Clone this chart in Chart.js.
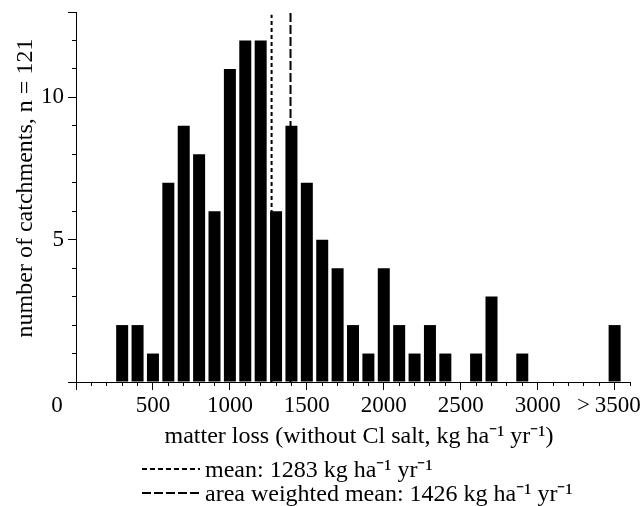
<!DOCTYPE html>
<html>
<head>
<meta charset="utf-8">
<script src="https://cdn.jsdelivr.net/npm/chart.js@4/dist/chart.umd.min.js"></script>
<style>
  html, body { margin: 0; padding: 0; background: #fff; }
  #wrap { position: relative; width: 642px; height: 506px; }
  #legend { position: absolute; left: 142px; top: 457px; font: 24px "Liberation Serif", serif; line-height: 24px; color: #000; }
  #legend .row { white-space: nowrap; height: 24px; }
  #legend svg { vertical-align: middle; margin-right: 5px; position: relative; top: -2px; }
</style>
</head>
<body>
<div id="wrap">
  <canvas id="c" width="642" height="506"></canvas>
  <div id="legend"></div>
</div>
<script>
// ---- data ----
const binCenters = [300,400,500,600,700,800,900,1000,1100,1200,1300,1400,1500,1600,1700,1800,1900,2000,2100,2200,2300,2400,2500,2600,2700,2800,2900,3000,3100,3200,3300,3400,3500];
const counts     = [2,2,1,7,9,8,6,11,12,12,6,9,7,5,4,2,1,4,2,1,2,1,0,1,3,0,1,0,0,0,0,0,2];
const meanLineX = 1271;          // dotted line position as drawn
const weightedMeanLineX = 1394;  // dashed line position as drawn
const xMajorTicks = [0,500,1000,1500,2000,2500,3000,3500];
const xTickLabels = ['0','500','1000','1500','2000','2500','3000','>\u20093500\u2002'];
const yMajorTicks = [0,5,10,13];
const yTickLabels = ['','5','10',''];
const xTitle = '\u00A0\u00A0matter loss (without Cl salt, kg ha\u207B\u00B9 yr\u207B\u00B9)';
const yTitle = '\u00A0\u00A0\u00A0number of catchments, n = 121';
const legendLabels = ['mean: 1283 kg ha\u207B\u00B9 yr\u207B\u00B9', 'area weighted mean: 1426 kg ha\u207B\u00B9 yr\u207B\u00B9'];

const TICK_FONT = { family: '"Liberation Serif", serif', size: 23 };
const TITLE_FONT = { family: '"Liberation Serif", serif', size: 24 };

const zeroLabelPlugin = {
  id: 'zeroLabel',
  afterDraw(chart) {
    const sx = chart.scales.x;
    const o = sx.options;
    const ctx = chart.ctx;
    ctx.save();
    ctx.font = TICK_FONT.size + 'px ' + TICK_FONT.family;
    ctx.fillStyle = '#000';
    ctx.textAlign = 'center';
    ctx.textBaseline = 'middle';
    const y = sx.top + o.grid.tickLength + o.ticks.padding + TICK_FONT.size * 1.2 / 2;
    ctx.fillText(xTickLabels[0], sx.getPixelForValue(0) - 19, y);
    ctx.restore();
  }
};

new Chart(document.getElementById('c'), {
  type: 'bar',
  data: {
    datasets: [
      {
        type: 'bar',
        data: binCenters.map((x, i) => ({ x, y: counts[i] })),
        backgroundColor: '#000',
        borderWidth: 0,
        categoryPercentage: 1,
        barPercentage: 0.78,
        xAxisID: 'x', yAxisID: 'y',
        order: 0
      },
      {
        type: 'line',
        data: [{ x: meanLineX, y: 0 }, { x: meanLineX, y: 12.9 }],
        borderColor: '#000', borderWidth: 2, borderDash: [4, 3],
        pointRadius: 0, fill: false,
        xAxisID: 'x', yAxisID: 'y',
        order: 1
      },
      {
        type: 'line',
        data: [{ x: weightedMeanLineX, y: 0 }, { x: weightedMeanLineX, y: 13 }],
        borderColor: '#000', borderWidth: 2, borderDash: [9, 3],
        pointRadius: 0, fill: false,
        xAxisID: 'x', yAxisID: 'y',
        order: 1
      }
    ]
  },
  options: {
    responsive: false,
    animation: false,
    devicePixelRatio: 1,
    layout: { padding: { top: 12, right: 12, bottom: 55, left: 0 } },
    plugins: { legend: { display: false }, tooltip: { enabled: false } },
    scales: {
      x: {
        type: 'linear', position: 'bottom', weight: 1,
        min: 0, max: 3600, offset: false,
        afterBuildTicks: s => { s.ticks = xMajorTicks.map(v => ({ value: v })); },
        afterFit: s => { s.height = 69; s.paddingLeft = 0; s.paddingRight = 0; },
        ticks: {
          autoSkip: false, maxRotation: 0, padding: 2, color: '#000', font: TICK_FONT,
          callback: (v) => { const i = xMajorTicks.indexOf(v); return i > 0 ? xTickLabels[i] : ''; }
        },
        grid: { drawOnChartArea: false, drawTicks: true, tickLength: 8, color: '#000', offset: false },
        border: { display: true, color: '#000', width: 1 },
        title: { display: true, text: xTitle, color: '#000', font: TITLE_FONT, padding: { top: 0, bottom: 0 } }
      },
      xMinor: {
        type: 'linear', position: 'bottom', weight: 0, display: true,
        min: 0, max: 3600, offset: false,
        afterFit: s => { s.height = 0; s.paddingLeft = 0; s.paddingRight = 0; },
        ticks: { display: false, stepSize: 100, autoSkip: false },
        grid: { drawOnChartArea: false, drawTicks: true, tickLength: 4, color: '#000', offset: false },
        border: { display: true, color: '#000', width: 1 }
      },
      y: {
        type: 'linear', position: 'left', weight: 1,
        min: 0, max: 13,
        afterBuildTicks: s => { s.ticks = yMajorTicks.map(v => ({ value: v })); },
        afterFit: s => { s.width = 76; s.paddingTop = 0; s.paddingBottom = 0; },
        ticks: {
          padding: 4, color: '#000', font: TICK_FONT,
          callback: (v) => { const i = yMajorTicks.indexOf(v); return i >= 0 ? yTickLabels[i] : ''; }
        },
        grid: { drawOnChartArea: false, drawTicks: true, tickLength: 8, color: '#000' },
        border: { display: true, color: '#000', width: 1 },
        title: { display: true, text: yTitle, color: '#000', font: TITLE_FONT, padding: { top: 11, bottom: 0 } }
      },
      yMinor: {
        type: 'linear', position: 'left', weight: 0, display: true,
        min: 0, max: 13,
        afterFit: s => { s.width = 0; s.paddingTop = 0; s.paddingBottom = 0; },
        ticks: { display: false, stepSize: 1 },
        grid: { drawOnChartArea: false, drawTicks: true, tickLength: 4, color: '#000' },
        border: { display: true, color: '#000', width: 1 }
      }
    }
  },
  plugins: [zeroLabelPlugin]
});

// legend below the chart (line samples + labels)
const legendDashes = ['5,3', '9,3'];
const legend = document.getElementById('legend');
legendLabels.forEach((txt, i) => {
  const row = document.createElement('div');
  row.className = 'row';
  row.innerHTML = '<svg width="58" height="4"><line x1="0" y1="2" x2="58" y2="2" stroke="#000" stroke-width="2" stroke-dasharray="' + legendDashes[i] + '"/></svg>';
  const span = document.createElement('span');
  span.textContent = txt;
  row.appendChild(span);
  legend.appendChild(row);
});
</script>
</body>
</html>
